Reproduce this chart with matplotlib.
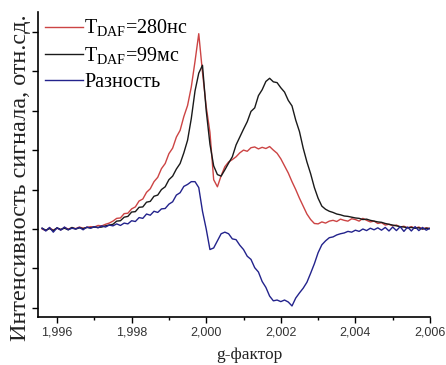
import numpy as np
import matplotlib
matplotlib.use("Agg")
import matplotlib.pyplot as plt
from matplotlib.ticker import MultipleLocator, FuncFormatter

plt.rcParams['mathtext.fontset'] = 'custom'
plt.rcParams['mathtext.rm'] = 'Liberation Serif'

# g-factor sample positions (step 0.0001 from 1.9956 to 2.0060)
g = np.round(np.arange(1.9956, 2.00605, 0.0001), 4)

red_280ns = [
    # 1.9956 - 1.9965
    0.00, -0.04, 0.03, -0.03, 0.02, -0.02, 0.04, 0.00, 0.03, 0.01,
    # 1.9966 - 1.9975
    0.05, 0.02, 0.04, 0.06, 0.05, 0.09, 0.08, 0.12, 0.15, 0.20,
    # 1.9976 - 1.9985
    0.27, 0.28, 0.39, 0.40, 0.51, 0.56, 0.71, 0.76, 0.93, 1.02,
    # 1.9986 - 1.9995
    1.20, 1.31, 1.53, 1.66, 1.91, 2.05, 2.33, 2.50, 2.85, 3.13,
    # 1.9996 - 2.0005
    3.60, 4.25, 4.95, 3.97, 3.10, 2.45, 1.25, 1.07, 1.35, 1.58,
    # 2.0006 - 2.0015
    1.70, 1.76, 1.83, 1.93, 2.00, 1.97, 2.06, 2.08, 2.03, 2.07,
    # 2.0016 - 2.0025
    2.04, 2.09, 2.00, 1.92, 1.78, 1.60, 1.42, 1.20, 1.00, 0.78,
    # 2.0026 - 2.0035
    0.58, 0.38, 0.24, 0.14, 0.13, 0.18, 0.15, 0.20, 0.22, 0.19,
    # 2.0036 - 2.0045
    0.25, 0.22, 0.20, 0.26, 0.24, 0.20, 0.27, 0.22, 0.18, 0.20,
    # 2.0046 - 2.0055
    0.14, 0.16, 0.10, 0.12, 0.08, 0.10, 0.05, 0.07, 0.03, 0.06,
    # 2.0056 - 2.0060
    0.02, 0.05, 0.00, 0.03, 0.01,
]

black_99ms = [
    # 1.9956 - 1.9965
    0.02, -0.03, 0.01, -0.04, 0.03, -0.01, 0.02, -0.02, 0.04, 0.00,
    # 1.9966 - 1.9975
    0.03, 0.01, 0.04, 0.03, 0.05, 0.04, 0.05, 0.08, 0.10, 0.12,
    # 1.9976 - 1.9985
    0.20, 0.21, 0.30, 0.32, 0.43, 0.44, 0.55, 0.56, 0.68, 0.70,
    # 1.9986 - 1.9995
    0.83, 0.86, 1.00, 1.07, 1.25, 1.34, 1.52, 1.66, 1.93, 2.25,
    # 1.9996 - 2.0005
    2.80, 3.50, 3.95, 4.15, 3.00, 2.15, 1.60, 1.38, 1.34, 1.50,
    # 2.0006 - 2.0015
    1.67, 1.83, 2.13, 2.33, 2.53, 2.72, 2.98, 3.07, 3.38, 3.53,
    # 2.0016 - 2.0025
    3.74, 3.82, 3.73, 3.71, 3.58, 3.47, 3.26, 3.12, 2.76, 2.47,
    # 2.0026 - 2.0035
    2.05, 1.70, 1.40, 1.05, 0.78, 0.58, 0.50, 0.45, 0.42, 0.38,
    # 2.0036 - 2.0045
    0.36, 0.33, 0.32, 0.30, 0.28, 0.27, 0.24, 0.25, 0.22, 0.20,
    # 2.0046 - 2.0055
    0.18, 0.17, 0.14, 0.12, 0.10, 0.08, 0.06, 0.05, 0.03, 0.04,
    # 2.0056 - 2.0060
    0.02, 0.03, 0.00, 0.02, 0.01,
]

blue_diff = [
    # 1.9956 - 1.9965
    0.02, -0.05, 0.04, -0.08, 0.03, -0.03, 0.05, -0.02, 0.02, 0.00,
    # 1.9966 - 1.9975
    0.04, -0.02, 0.05, 0.02, 0.06, 0.03, 0.08, 0.05, 0.10, 0.08,
    # 1.9976 - 1.9985
    0.13, 0.09, 0.15, 0.13, 0.21, 0.19, 0.29, 0.27, 0.38, 0.35,
    # 1.9986 - 1.9995
    0.45, 0.42, 0.51, 0.52, 0.63, 0.69, 0.86, 0.92, 1.08, 1.13,
    # 1.9996 - 2.0005
    1.20, 1.20, 1.05, 0.45, 0.00, -0.52, -0.48, -0.30, -0.12, -0.08,
    # 2.0006 - 2.0015
    -0.12, -0.25, -0.27, -0.41, -0.52, -0.69, -0.77, -0.98, -1.09, -1.33,
    # 2.0016 - 2.0025
    -1.48, -1.70, -1.82, -1.80, -1.84, -1.80, -1.85, -1.95, -1.75, -1.62,
    # 2.0026 - 2.0035
    -1.50, -1.35, -1.12, -0.88, -0.60, -0.40, -0.30, -0.22, -0.20, -0.15,
    # 2.0036 - 2.0045
    -0.12, -0.10, -0.06, -0.08, -0.03, -0.06, 0.00, -0.04, 0.02, -0.02,
    # 2.0046 - 2.0055
    0.03, -0.03, 0.04, -0.05, 0.05, -0.04, 0.06, -0.06, 0.05, -0.05,
    # 2.0056 - 2.0060
    0.06, -0.04, 0.04, -0.03, 0.02,
]

labels = [r"T$_{\mathrm{DAF}}$=280нс", r"T$_{\mathrm{DAF}}$=99мс", "Разность"]
colors = ["#cc4444", "#1a1a1a", "#23238c"]
x_ticks = [1.996, 1.998, 2.000, 2.002, 2.004, 2.006]
y_ticks = [-2, -1, 0, 1, 2, 3, 4, 5]

W, H = 446, 365
fig = plt.figure(figsize=(W / 100, H / 100), dpi=100)
ax = fig.add_axes([38 / W, 1 - 317 / H, (430 - 38) / W, (317 - 12) / H])

for ys, c, lab in zip([red_280ns, black_99ms, blue_diff], colors, labels):
    ax.plot(g, ys, color=c, lw=1.0, label=lab)

ax.set_xlim(1.99549, 2.006)
ax.set_ylim(-2.23, 5.5)
ax.set_xticks(x_ticks)
ax.xaxis.set_minor_locator(MultipleLocator(0.001))
ax.xaxis.set_major_formatter(FuncFormatter(lambda v, p: f"{v:.3f}".replace('.', ',')))
ax.set_yticks(y_ticks)
ax.set_yticklabels([])
ax.spines['top'].set_visible(False)
ax.spines['right'].set_visible(False)
for s in ['left', 'bottom']:
    ax.spines[s].set_linewidth(1.2)
ax.tick_params(axis='x', which='major', direction='out', length=4, width=1.0,
               labelsize=9, labelcolor='#333333', pad=3)
ax.tick_params(axis='x', which='minor', direction='out', length=2.5, width=1.0)
ax.tick_params(axis='y', which='major', direction='out', length=4, width=1.0)
for t in ax.get_xticklabels():
    t.set_fontfamily('Liberation Sans')

leg = ax.legend(loc='upper left', bbox_to_anchor=(1 / 392, 1.0), frameon=False,
                borderaxespad=0, borderpad=0.3, handlelength=1.9, handletextpad=0.05,
                labelspacing=0.3, prop={'family': 'Liberation Serif', 'size': 14.5})

fig.text(21 / W, 1 - 178 / H, "Интенсивность сигнала, отн.сд.", rotation=90,
         ha='center', va='center', family='Liberation Serif', fontsize=17.5, color='#222222')
fig.text(249 / W, 1 - 355 / H, "g-фактор", ha='center', va='center',
         family='Liberation Serif', fontsize=12.5, color='#222222')

fig.savefig("out.png", dpi=100)
